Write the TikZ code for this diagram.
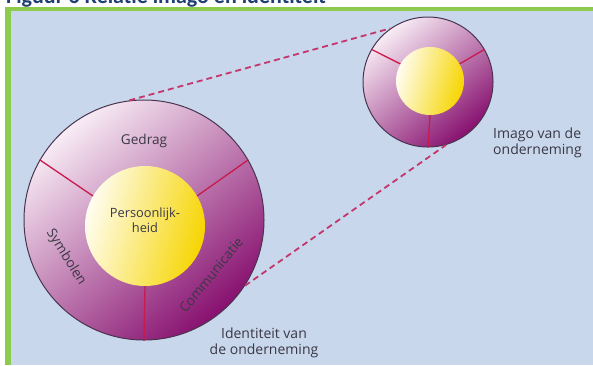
\documentclass[tikz,border=0pt]{standalone}
\usepackage{fontspec}
\setmainfont{Open Sans}
\newfontfamily\titlefont{Carlito}
\definecolor{panelblue}{HTML}{C8D7EC}
\definecolor{greenbar}{HTML}{8DCB4E}
\definecolor{titleblue}{HTML}{1F3F73}
\definecolor{ringlight}{HTML}{F8ECF5}
\definecolor{ringmid}{HTML}{C173B4}
\definecolor{ringdark}{HTML}{87106F}
\definecolor{yellowlight}{HTML}{FFFDF2}
\definecolor{yellowmid}{HTML}{FCEC78}
\definecolor{yellowdark}{HTML}{F6D500}
\definecolor{divred}{HTML}{C81A4C}
\definecolor{dashred}{HTML}{C4376C}
\definecolor{rimline}{HTML}{4A3550}
\definecolor{labelgray}{HTML}{3A3846}
\tikzset{
  ring/.style={circle, inner sep=0pt, draw=rimline, line width=1pt,
    top color=ringlight, middle color=ringmid, bottom color=ringdark, shading angle=40},
  core/.style={circle, inner sep=0pt,
    top color=yellowlight, middle color=yellowmid, bottom color=yellowdark, shading angle=75},
  divider/.style={draw=divred, line width=1.3pt},
  dashlink/.style={draw=dashred, line width=1.8pt, dash pattern=on 6pt off 4pt},
  lbl/.style={text=labelgray, font=\fontsize{13.6}{14}\selectfont, inner sep=0pt},
  caption/.style={text=labelgray, font=\fontsize{14}{15.5}\selectfont, inner sep=0pt}
}
\begin{document}
\begin{tikzpicture}[x=1pt,y=-1pt]
\useasboundingbox (0,0) rectangle (593,365);
\fill[white] (0,0) rectangle (593,365);
\node[anchor=base west, inner sep=0pt, text=titleblue, font=\titlefont\bfseries\fontsize{22}{22}\selectfont] (title) at (6,3.5) {Figuur 6 Relatie imago en identiteit};
\fill[greenbar] (5,7) rectangle (593,365);
\fill[panelblue] (11,11) rectangle (593,365);
% big circle
\node[ring, minimum size=240pt] (big) at (144,220) {};
\node[core, minimum size=120pt] (bigcore) at (145,226) {};
\draw[divider] (bigcore.150) -- (big.150);
\draw[divider] (bigcore.30) -- (big.30);
\draw[divider] (bigcore.270) -- (big.270);
\node[lbl] (gedrag) at (144,141) {Gedrag};
\node[lbl, rotate=-58] (symbolen) at (66,257) {Symbolen};
\node[lbl, rotate=51] (comm) at (211,275) {Communicatie};
\node[lbl, align=center, font=\fontsize{12.8}{14.5}\selectfont] (pers) at (145,220) {Persoonlijk-\\heid};
% small circle
\node[ring, minimum size=130pt] (small) at (428,82) {};
\node[core, minimum size=68pt] (smallcore) at (430,81) {};
\draw[divider] (smallcore.150) -- (small.150);
\draw[divider] (smallcore.30) -- (small.30);
\draw[divider] (smallcore.270) -- (small.270);
% dashed links
\draw[dashlink] (big.97) -- (small.125);
\draw[dashlink] (big.-33) -- (small.-74);
% captions
\node[caption, align=left, anchor=north west] (imago) at (493,128) {Imago van de\\onderneming};
\node[caption, align=center, anchor=north] (ident) at (264,328) {Identiteit van\\de onderneming};
\end{tikzpicture}
\end{document}
